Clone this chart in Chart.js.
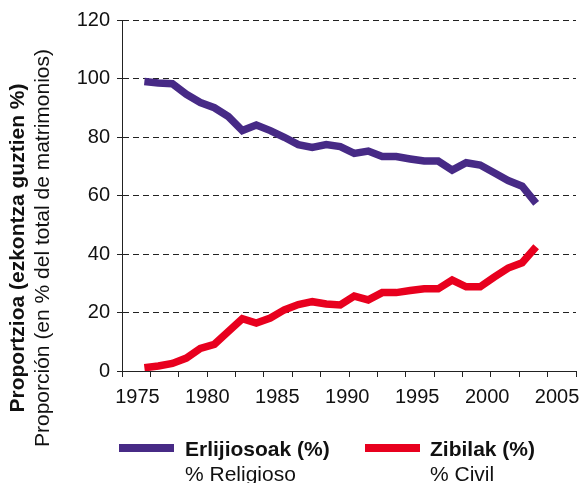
<!DOCTYPE html>
<html>
<head>
<meta charset="utf-8">
<script src="https://cdn.jsdelivr.net/npm/chart.js@4.4.0/dist/chart.umd.min.js"></script>
<style>
  html, body { margin: 0; padding: 0; background: #fff; }
  canvas { display: block; }
</style>
</head>
<body>
<canvas id="myChart" width="581" height="483"></canvas>
<script>
const years = [1975, 1976, 1977, 1978, 1979, 1980, 1981, 1982, 1983, 1984,
               1985, 1986, 1987, 1988, 1989, 1990, 1991, 1992, 1993, 1994,
               1995, 1996, 1997, 1998, 1999, 2000, 2001, 2002, 2003];
const religiosoData = [99.0, 98.5, 98.2, 94.6, 91.8, 90.0, 87.0, 82.2, 84.1, 82.2,
                       79.9, 77.4, 76.4, 77.4, 76.7, 74.4, 75.2, 73.3, 73.3, 72.5,
                       71.8, 71.8, 68.7, 71.2, 70.4, 67.8, 65.1, 63.2, 57.3];
const civilData = [1.1, 1.7, 2.6, 4.4, 7.7, 9.1, 13.5, 17.9, 16.4, 18.1,
                   20.9, 22.7, 23.7, 22.9, 22.6, 25.6, 24.3, 26.8, 26.8, 27.5,
                   28.1, 28.1, 31.1, 28.8, 28.8, 32.1, 35.2, 37.0, 42.5];
const yearLabels = [1975, 1980, 1985, 1990, 1995, 2000, 2005];
const yTicks = [0, 20, 40, 60, 80, 100, 120];
const seriesNames = [['Erlijiosoak (%)', '% Religioso'], ['Zibilak (%)', '% Civil']];
const seriesColors = ['#472a86', '#e8001e'];
const axisTitle = ['Proportzioa (ezkontza guztien %)', 'Proporción (en % del total de matrimonios)'];

const FONT = '"Liberation Sans", Arial, sans-serif';
Chart.defaults.font.family = FONT;

// values are yearly, plotted at mid-year
const toPoints = arr => arr.map((v, i) => ({ x: years[i] + 0.5, y: v }));

const xMin = 1973.9, xMax = 2006.35;

// legend + two-line axis title
const textPlugin = {
  id: 'texts',
  afterDraw(chart) {
    const ctx = chart.ctx;
    ctx.save();
    ctx.fillStyle = '#111';
    ctx.save();
    ctx.translate(18, 248);
    ctx.rotate(-Math.PI / 2);
    ctx.textAlign = 'center';
    ctx.textBaseline = 'middle';
    ctx.font = 'bold 21px ' + FONT;
    ctx.fillText(axisTitle[0], 0, 0);
    ctx.font = '21px ' + FONT;
    ctx.fillText(axisTitle[1], 0, 25);
    ctx.restore();

    const items = [{ x: 119, tx: 185 }, { x: 365, tx: 430 }];
    items.forEach((it, i) => {
      ctx.strokeStyle = seriesColors[i];
      ctx.lineWidth = 8;
      ctx.beginPath();
      ctx.moveTo(it.x, 448);
      ctx.lineTo(it.x + 55, 448);
      ctx.stroke();
      ctx.textAlign = 'left';
      ctx.textBaseline = 'alphabetic';
      ctx.font = 'bold 21px ' + FONT;
      ctx.fillText(seriesNames[i][0], it.tx, 456);
      ctx.font = '21px ' + FONT;
      ctx.fillText(seriesNames[i][1], it.tx, 481);
    });
    ctx.restore();
  }
};

const ctx = document.getElementById('myChart').getContext('2d');
const myChart = new Chart(ctx, {
  type: 'line',
  data: {
    datasets: [{
      label: seriesNames[0][0],
      data: toPoints(religiosoData),
      borderColor: seriesColors[0],
      borderWidth: 7.5,
      pointRadius: 0,
      fill: false
    }, {
      label: seriesNames[1][0],
      data: toPoints(civilData),
      borderColor: seriesColors[1],
      borderWidth: 7.5,
      pointRadius: 0,
      fill: false
    }]
  },
  options: {
    responsive: false,
    animation: false,
    layout: { padding: { left: 0, top: 20, right: 5, bottom: 72 } },
    plugins: {
      legend: { display: false },
      tooltip: { enabled: false }
    },
    scales: {
      x: {
        type: 'linear',
        min: xMin,
        max: xMax,
        afterBuildTicks: function (scale) {
          const ticks = [];
          for (let i = 0; i <= 16; i++) ticks.push({ value: xMin + i * (xMax - xMin) / 16 });
          yearLabels.forEach(v => ticks.push({ value: v }));
          ticks.sort((a, b) => a.value - b.value);
          scale.ticks = ticks;
        },
        afterFit: function (scale) {
          scale.height = 40;
          scale.paddingLeft = 0;
          scale.paddingRight = 0;
        },
        border: { color: '#222', width: 1 },
        grid: {
          drawOnChartArea: false,
          tickLength: 6,
          tickWidth: 1,
          tickColor: c => (c.tick && yearLabels.includes(c.tick.value)) ? 'rgba(0,0,0,0)' : '#222'
        },
        ticks: {
          autoSkip: false,
          maxRotation: 0,
          padding: 8,
          color: '#111',
          font: { size: 20 },
          callback: v => yearLabels.includes(v) ? String(v) : ''
        }
      },
      y: {
        min: 0,
        max: 120,
        afterBuildTicks: function (scale) {
          scale.ticks = yTicks.map(v => ({ value: v }));
        },
        afterFit: function (scale) {
          scale.width = 122;
          scale.paddingTop = 0;
          scale.paddingBottom = 0;
        },
        border: { color: '#222', width: 1, dash: [6, 4] },
        grid: { color: '#222', tickColor: '#222', tickLength: 5, tickBorderDash: [] },
        ticks: { padding: 7, color: '#111', font: { size: 20 } }
      }
    }
  },
  plugins: [textPlugin]
});
</script>
</body>
</html>
